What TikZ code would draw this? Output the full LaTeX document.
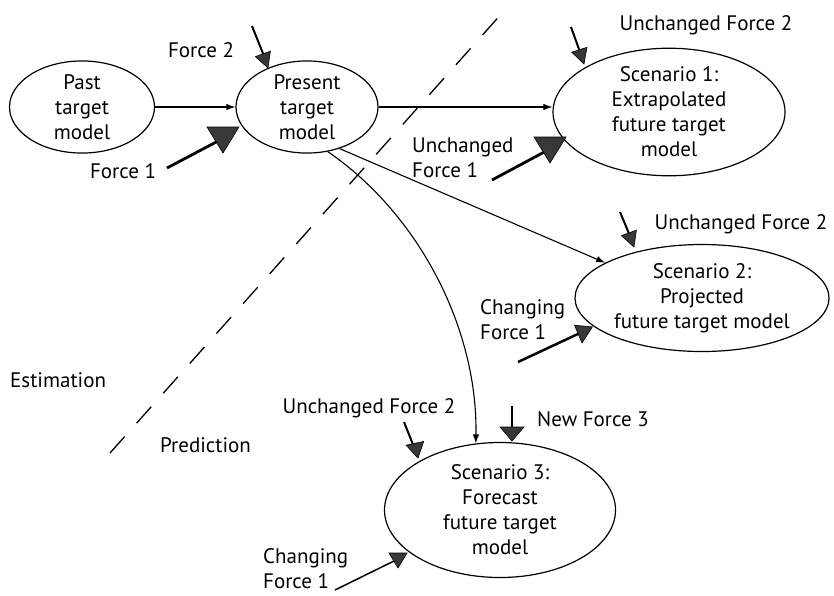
\documentclass[tikz,border=0pt]{standalone}
\usepackage{fontspec}
\setmainfont{PT Sans}
\usetikzlibrary{shapes.geometric,arrows.meta}
\newcommand\diagfont{\fontsize{21}{25}\selectfont}
\tikzset{
  every node/.style={font=\diagfont, inner sep=0pt},
  model/.style={ellipse, draw, line width=1.2pt, align=center},
  link/.style={line width=1.1pt, -{Latex[length=9pt,width=6.5pt]}},
  pull/.style={line width=2pt},
  push/.style={line width=2.8pt},
  border/.style={dash pattern=on 22pt off 18pt, line width=1.3pt},
  pics/forcehead/.style 2 args={code={
    \filldraw[line width=0.6pt, fill=black!78] (0,0) -- (-#1,-#2) -- (#1,-#2) -- cycle;}}
}
\begin{document}
\begin{tikzpicture}[x=1pt,y=-1pt]
\path[use as bounding box] (0,0) rectangle (834,595);

% estimation / prediction boundary
\coordinate (edgelo) at (110,453);
\coordinate (edgehi) at (503,12);
\draw[border] (edgelo) -- (edgehi);
\node[anchor=west] (est) at (10,380) {Estimation};
\node[anchor=west] (pred) at (160,445) {Prediction};

% target models
\node[model, minimum width=145pt, minimum height=81pt] (past) at (82,107) {Past\\target\\model};
\node[model, minimum width=142pt, minimum height=89pt] (present) at (307,107) {Present\\target\\model};
\node[model, minimum width=232pt, minimum height=120pt] (s1) at (669,112) {Scenario 1:\\Extrapolated\\future target\\model};
\node[model, minimum width=254pt, minimum height=107pt] (s2) at (702,298) {Scenario 2:\\Projected\\future target model};
\node[model, minimum width=231pt, minimum height=135pt] (s3) at (500,510) {Scenario 3:\\Forecast\\future target\\model};

% transitions between models
\draw[link] (past.east) -- (present.west);
\draw[link] (present.east) -- (s1.west |- present.east);
\draw[link] (present.-52) -- (s2.160);
\draw[link] (present.-65) .. controls (420,215) and (478,330) .. (s3.110);

% force labels
\node (lf2) at (201,50) {Force 2};
\node (lf1) at (123,171) {Force 1};
\node (l1f2) at (706,25) {Unchanged Force 2};
\node[anchor=west, align=left] (l1f1) at (412,158) {Unchanged\\Force 1};
\node (l2f2) at (741,224) {Unchanged Force 2};
\node[anchor=west, align=left] (l2f1) at (480,320) {Changing\\Force 1};
\node (l3f2) at (369,408) {Unchanged Force 2};
\node (l3f3) at (593,419) {New Force 3};
\node[anchor=west, align=left] (l3f1) at (263,569) {Changing\\Force 1};

% force arrows: start, end of shaft, head tip
\coordinate (a1s) at (252,26);  \coordinate (a1e) at (264,56);  \coordinate (a1t) at (268,68);
\coordinate (a2s) at (167,168); \coordinate (a2e) at (220,140); \coordinate (a2t) at (223,153);
\coordinate (a3s) at (571,27);  \coordinate (a3e) at (580,52);  \coordinate (a3t) at (584,64);
\coordinate (a4s) at (492,180); \coordinate (a4e) at (548,150); \coordinate (a4t) at (550,163);
\coordinate (a5s) at (620,212); \coordinate (a5e) at (630,236); \coordinate (a5t) at (634,247);
\coordinate (a6s) at (518,362); \coordinate (a6e) at (580,333); \coordinate (a6t) at (582,343);
\coordinate (a7s) at (404,422); \coordinate (a7e) at (414,447); \coordinate (a7t) at (418,458);
\coordinate (a8s) at (512,406); \coordinate (a8e) at (512,430); \coordinate (a8t) at (512,441);
\coordinate (a9s) at (335,590); \coordinate (a9e) at (396,560); \coordinate (a9t) at (398,568);

\draw[pull] (a1s) -- (a1e); \pic[rotate=20] at (a1t) {forcehead={8}{15}};
\draw[push] (a2s) -- (a2e); \pic at (a2t) {forcehead={16}{26}};
\draw[pull] (a3s) -- (a3e); \pic[rotate=18] at (a3t) {forcehead={8}{15}};
\draw[push] (a4s) -- (a4e); \pic at (a4t) {forcehead={16}{26}};
\draw[pull] (a5s) -- (a5e); \pic[rotate=20] at (a5t) {forcehead={8}{15}};
\draw[line width=2.5pt] (a6s) -- (a6e); \pic[rotate=-5] at (a6t) {forcehead={9}{17}};
\draw[pull] (a7s) -- (a7e); \pic[rotate=12] at (a7t) {forcehead={9}{15}};
\draw[pull] (a8s) -- (a8e); \pic at (a8t) {forcehead={12}{14}};
\draw[line width=1.5pt] (a9s) -- (a9e); \pic at (a9t) {forcehead={9}{15}};
\end{tikzpicture}
\end{document}
